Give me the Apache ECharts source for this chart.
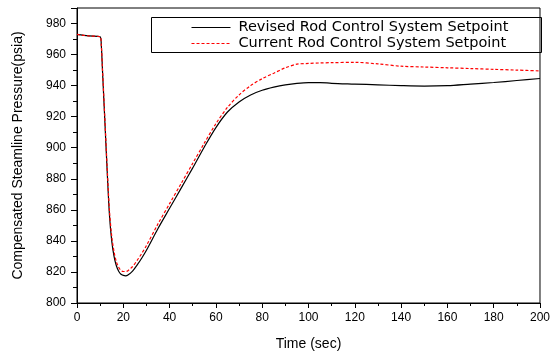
<!DOCTYPE html>
<html>
<head>
<meta charset="utf-8">
<script src="https://cdn.jsdelivr.net/npm/echarts@6/dist/echarts.min.js"></script>
<style>html,body{margin:0;padding:0;background:#fff}#c{width:553px;height:356px}</style>
</head>
<body>
<div id="c"></div>
<script>
var times = [0,5,10,10.5,11,12,13,14,15,16,17,18,19,20,21,22,24,26,28,30,35,40,45,50,55,60,65,70,75,80,85,90,95,100,105,110,120,130,140,150,160,170,180,190,200];
var revised = [973,972,971.5,966,950,918,886,857,840,830,824,820.5,818.5,817.8,817.5,818,820.5,824.5,829,834,848,861,874,887,900.5,913,923,929.5,934,937,939,940.5,941.5,942,942,941.5,941,940.5,940,939.7,940,941,942,943.3,944.6];
var current = [973,972,971.5,966,951,920,888,860,843,833,826.5,823,821,820.3,820.3,820.8,823.5,827.5,832,837,851,864,877,890,903,915.5,926,934,940,944.5,948,951.5,953.8,954.3,954.6,954.8,955,954,952.5,952,951.5,951,950.5,950,949.5];
var seriesNames = ['Revised Rod Control System Setpoint','Current Rod Control System Setpoint'];
var xAxisTitle = 'Time (sec)';
var yAxisTitle = 'Compensated Steamline Pressure(psia)';

function pairs(v){ return times.map(function(t,i){ return [t, v[i]]; }); }
var font = 'Liberation Sans, Arial, sans-serif';
var chart = echarts.init(document.getElementById('c'));
chart.setOption({
  animation: false,
  backgroundColor: '#fff',
  grid: { left: 77, right: 10, top: 8, bottom: 53, show: true, borderColor: '#000', borderWidth: 1, backgroundColor: 'transparent' },
  graphic: [{ type: 'rect', left: 149, top: 15, shape: { width: 390, height: 35 }, style: { fill: 'none', stroke: '#000', lineWidth: 1 }, z: 10 }],
  legend: {
    orient: 'vertical', left: 191, top: 20, padding: 0, itemGap: 1,
    itemWidth: 39, itemHeight: 14,
    itemStyle: { opacity: 0, borderWidth: 0 },
    lineStyle: { width: 1 },
    textStyle: { fontFamily: 'DejaVu Sans', fontSize: 14.5, color: '#000', padding: [0, 0, 0, 3] },
    data: seriesNames
  },
  xAxis: {
    type: 'value', min: 0, max: 200, interval: 20,
    name: xAxisTitle, nameLocation: 'middle', nameGap: 34,
    nameTextStyle: { fontFamily: font, fontSize: 14, color: '#000' },
    axisLine: { lineStyle: { color: '#000', width: 1 } },
    axisTick: { length: 5, lineStyle: { color: '#000' } },
    minorTick: { show: true, splitNumber: 2, length: 3, lineStyle: { color: '#000' } },
    axisLabel: { fontFamily: font, fontSize: 12, color: '#000', margin: 9 },
    splitLine: { show: false }
  },
  yAxis: {
    type: 'value', min: 800, max: 990, interval: 20,
    name: yAxisTitle, nameLocation: 'middle', nameGap: 52,
    nameTextStyle: { fontFamily: font, fontSize: 14, color: '#000' },
    axisLine: { show: true, lineStyle: { color: '#000', width: 1 } },
    axisTick: { length: 6, lineStyle: { color: '#000' } },
    minorTick: { show: true, splitNumber: 2, length: 4, lineStyle: { color: '#000' } },
    axisLabel: { fontFamily: font, fontSize: 12, color: '#000', margin: 11, showMaxLabel: false },
    splitLine: { show: false }
  },
  series: [
    { name: seriesNames[0], type: 'line', data: pairs(revised), showSymbol: false, symbol: 'none', smooth: 0.3,
      lineStyle: { color: '#000', width: 1.2 }, itemStyle: { color: '#000' } },
    { name: seriesNames[1], type: 'line', data: pairs(current), showSymbol: false, symbol: 'none', smooth: 0.3,
      lineStyle: { color: '#ff0000', width: 1.2, type: [3, 2] }, itemStyle: { color: '#ff0000' } }
  ]
});
</script>
</body>
</html>
